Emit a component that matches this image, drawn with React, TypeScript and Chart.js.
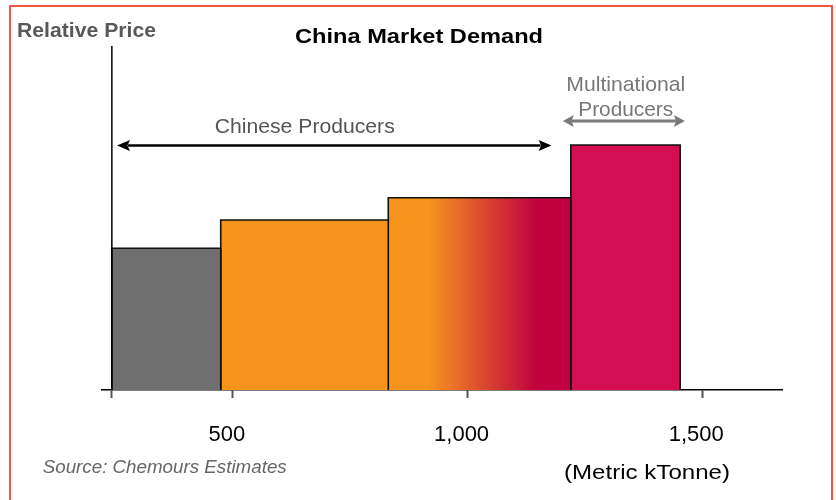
import React, { useEffect, useRef } from "react";
import { Chart, registerables } from "chart.js";

Chart.register(...registerables);

// ---- data ----
const segmentEdges = [242, 474, 831, 1220, 1453]; // kTonne, cumulative capacity
const segmentPrices = [41.2, 49.4, 55.9, 71.2]; // relative price
const segmentNames = ["Low cost", "Chinese", "Chinese (mixed)", "Multinational"];
const xTickValues = [242, 500, 1000, 1500];
const xTickLabels = ["", "500", "1,000", "1,500"];

const FONT = "'Liberation Sans', Arial, Helvetica, sans-serif";
const GRAY = "#6f6f6f";
const ORANGE = "#f7941e";
const CRIMSON = "#c0003f";
const PINK = "#d40e52";

function drawText(
  ctx: CanvasRenderingContext2D,
  text: string,
  x: number,
  y: number,
  font: string,
  color: string,
  align: "left" | "center",
  targetWidth?: number
) {
  ctx.save();
  ctx.font = font;
  ctx.fillStyle = color;
  ctx.textBaseline = "alphabetic";
  ctx.textAlign = "left";
  const w = ctx.measureText(text).width;
  const sx = targetWidth ? targetWidth / w : 1;
  const fw = targetWidth ?? w;
  const left = align === "center" ? x - fw / 2 : x;
  ctx.translate(left, y);
  ctx.scale(sx, 1);
  ctx.fillText(text, 0, 0);
  ctx.restore();
}

function drawArrow(
  ctx: CanvasRenderingContext2D,
  x1: number,
  x2: number,
  y: number,
  color: string,
  lw: number,
  headLen: number,
  headHalf: number
) {
  ctx.save();
  ctx.strokeStyle = color;
  ctx.fillStyle = color;
  ctx.lineWidth = lw;
  ctx.beginPath();
  ctx.moveTo(x1 + headLen - 2, y);
  ctx.lineTo(x2 - headLen + 2, y);
  ctx.stroke();
  ctx.beginPath();
  ctx.moveTo(x1, y);
  ctx.lineTo(x1 + headLen, y - headHalf);
  ctx.lineTo(x1 + headLen * 0.8, y);
  ctx.lineTo(x1 + headLen, y + headHalf);
  ctx.closePath();
  ctx.fill();
  ctx.beginPath();
  ctx.moveTo(x2, y);
  ctx.lineTo(x2 - headLen, y - headHalf);
  ctx.lineTo(x2 - headLen * 0.8, y);
  ctx.lineTo(x2 - headLen, y + headHalf);
  ctx.closePath();
  ctx.fill();
  ctx.restore();
}

const overlayPlugin = {
  id: "overlay",
  afterDraw(chart: any) {
    const ctx: CanvasRenderingContext2D = chart.ctx;
    const xs = chart.scales.x;
    const ys = chart.scales.y;
    const ca = chart.chartArea;

    // frame
    ctx.save();
    ctx.strokeStyle = "#ee5843";
    ctx.lineWidth = 2;
    ctx.strokeRect(10, 6, 822, 510);
    ctx.restore();

    // y axis line
    const yAxisX = xs.getPixelForValue(segmentEdges[0]);
    ctx.save();
    ctx.strokeStyle = "#000";
    ctx.lineWidth = 1.5;
    ctx.beginPath();
    ctx.moveTo(yAxisX, ca.top);
    ctx.lineTo(yAxisX, ca.bottom);
    ctx.stroke();
    ctx.restore();

    drawText(ctx, "Relative Price", 17, 36.7, `bold 20px ${FONT}`, "#595959", "left", 139);
    drawText(ctx, "China Market Demand", 419, 43.3, `bold 21px ${FONT}`, "#000", "center", 248);

    // Chinese producers annotation
    drawArrow(ctx, xs.getPixelForValue(253), xs.getPixelForValue(1179), ys.getPixelForValue(71.1), "#000", 2.5, 13, 5.5);
    drawText(ctx, "Chinese Producers", xs.getPixelForValue(653), ys.getPixelForValue(74.6), `21px ${FONT}`, "#555", "center", 180);

    // multinational annotation
    drawArrow(ctx, xs.getPixelForValue(1203), xs.getPixelForValue(1463), ys.getPixelForValue(78.2), "#7a7a7a", 3, 11, 6);
    drawText(ctx, "Multinational", xs.getPixelForValue(1337), ys.getPixelForValue(87), `21px ${FONT}`, "#777", "center", 119);
    drawText(ctx, "Producers", xs.getPixelForValue(1337), ys.getPixelForValue(79.7), `21px ${FONT}`, "#777", "center", 95);

    drawText(ctx, "Source: Chemours Estimates", 42.7, 472.7, `italic 18.7px ${FONT}`, "#666", "left", 244);
    drawText(ctx, "(Metric kTonne)", 564, 479, `21px ${FONT}`, "#000", "left", 166);
  },
};

export default function App() {
  const ref = useRef<HTMLCanvasElement | null>(null);

  useEffect(() => {
    const canvas = ref.current;
    if (!canvas) return;

    const fills: any[] = [
      GRAY,
      ORANGE,
      (c: any) => {
        const chart = c.chart;
        const xs = chart.scales.x;
        if (!xs || !chart.chartArea) return ORANGE;
        const x0 = xs.getPixelForValue(segmentEdges[2]);
        const x1 = xs.getPixelForValue(segmentEdges[3]);
        const g = chart.ctx.createLinearGradient(x0, 0, x1, 0);
        g.addColorStop(0, ORANGE);
        g.addColorStop(0.22, ORANGE);
        g.addColorStop(0.5, "#dd4e2d");
        g.addColorStop(0.82, CRIMSON);
        g.addColorStop(1, CRIMSON);
        return g;
      },
      PINK,
    ];

    const datasets = segmentPrices.map((p, i) => ({
      label: segmentNames[i],
      data: [
        { x: segmentEdges[i], y: 0 },
        { x: segmentEdges[i], y: p },
        { x: segmentEdges[i + 1], y: p },
        { x: segmentEdges[i + 1], y: 0 },
      ],
      borderColor: "#111",
      borderWidth: 1.6,
      backgroundColor: fills[i],
      fill: "origin",
      pointRadius: 0,
      tension: 0,
    }));

    const chart = new Chart(canvas, {
      type: "line",
      data: { datasets },
      options: {
        animation: false,
        responsive: false,
        devicePixelRatio: 1,
        layout: { padding: { top: 46, left: 102, right: 54, bottom: 27.6 } },
        plugins: {
          legend: { display: false },
          tooltip: { enabled: false },
          title: { display: false },
        },
        scales: {
          x: {
            type: "linear",
            min: 221,
            max: 1670,
            z: 1,
            afterBuildTicks: (s: any) => {
              s.ticks = xTickValues.map((v) => ({ value: v }));
            },
            ticks: {
              autoSkip: false,
              maxRotation: 0,
              minRotation: 0,
              labelOffset: -6,
              padding: 24,
              color: "#000",
              font: { family: FONT, size: 22 },
              callback: (v: any) => {
                const i = xTickValues.indexOf(Number(v));
                return i >= 0 ? xTickLabels[i] : "";
              },
            },
            grid: {
              drawOnChartArea: false,
              drawTicks: true,
              tickLength: 8,
              tickWidth: 2,
              tickColor: "#555",
            },
            border: { display: true, color: "#000", width: 1.5 },
          },
          y: { display: false, min: 0, max: 100 },
        },
      } as any,
      plugins: [overlayPlugin],
    });
    return () => chart.destroy();
  }, []);

  return (
    <div style={{ position: "fixed", left: 0, top: 0, width: 836, height: 500, background: "#fff" }}>
      <canvas ref={ref} width={836} height={500} style={{ display: "block" }} />
    </div>
  );
}
